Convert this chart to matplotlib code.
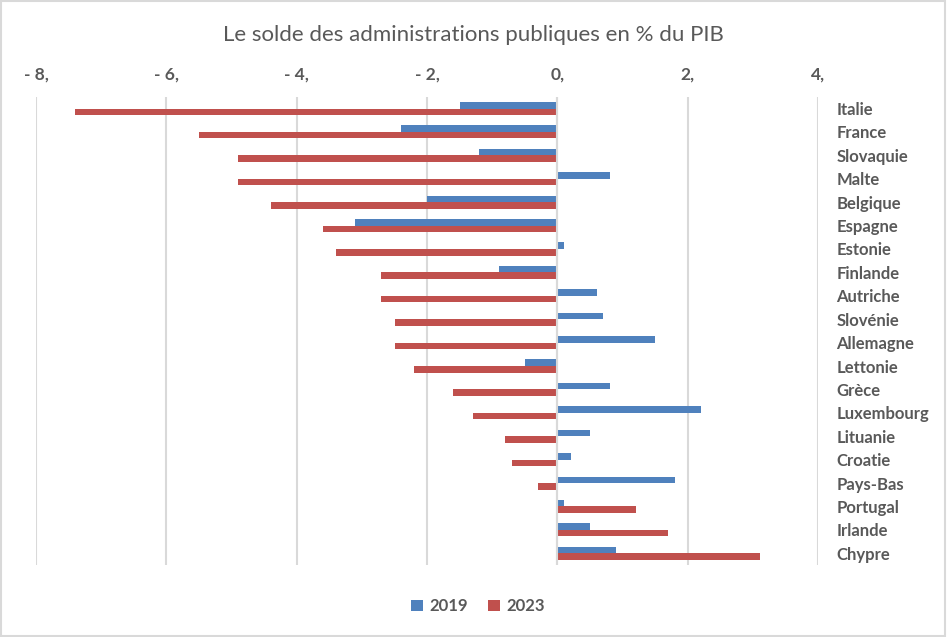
import numpy as np
import matplotlib.pyplot as plt
from matplotlib.patches import Rectangle

plt.rcParams['font.family'] = ['Lato', 'DejaVu Sans']

pays = ['Italie', 'France', 'Slovaquie', 'Malte', 'Belgique', 'Espagne',
        'Estonie', 'Finlande', 'Autriche', 'Slovénie', 'Allemagne',
        'Lettonie', 'Grèce', 'Luxembourg', 'Lituanie', 'Croatie',
        'Pays-Bas', 'Portugal', 'Irlande', 'Chypre']
solde_2019 = [-1.5, -2.4, -1.2, 0.8, -2.0, -3.1, 0.1, -0.9, 0.6, 0.7,
              1.5, -0.5, 0.8, 2.2, 0.5, 0.2, 1.8, 0.1, 0.5, 0.9]
solde_2023 = [-7.4, -5.5, -4.9, -4.9, -4.4, -3.6, -3.4, -2.7, -2.7, -2.5,
              -2.5, -2.2, -1.6, -1.3, -0.8, -0.7, -0.3, 1.2, 1.7, 3.1]
ticks = [-8, -6, -4, -2, 0, 2, 4]
tick_labels = ['- 8,', '- 6,', '- 4,', '- 2,', '0,', '2,', '4,']

grey = '#595959'
blue = '#4F81BD'
red = '#C0504D'

fig = plt.figure(figsize=(9.47, 6.37), dpi=100)
ax = fig.add_axes([0.038, 0.113, 0.826, 0.735])

y = np.arange(len(pays))
h = 0.28
ax.barh(y - h / 2, solde_2019, height=h, color=blue, label='2019', zorder=3)
ax.barh(y + h / 2, solde_2023, height=h, color=red, label='2023', zorder=3)

ax.set_xlim(-8, 4)
ax.set_ylim(19.5, -0.5)
ax.set_xticks(ticks)
ax.set_xticklabels(tick_labels)
ax.xaxis.tick_top()
ax.tick_params(axis='x', length=0, pad=10, labelsize=12.5, labelcolor=grey)
for t in ax.get_xticklabels():
    t.set_fontweight('bold')

ax.set_yticks(y)
ax.set_yticklabels(pays)
ax.yaxis.tick_right()
ax.tick_params(axis='y', length=0, pad=13, labelsize=12, labelcolor=grey)
for t in ax.get_yticklabels():
    t.set_fontweight('bold')

ax.grid(axis='x', color='#D9D9D9', linewidth=1.5, zorder=0)
for s in ax.spines.values():
    s.set_visible(False)
ax.axvline(0, color='#D9D9D9', linewidth=1.5, zorder=4)

fig.text(0.5, 0.945, 'Le solde des administrations publiques en % du PIB',
         ha='center', va='center', fontsize=16, color=grey)

fig.legend(loc='center', bbox_to_anchor=(0.505, 0.048), ncol=2, frameon=False,
           prop={'size': 12, 'weight': 'bold'}, handlelength=0.7,
           handleheight=0.7, columnspacing=1.2, handletextpad=0.4,
           labelcolor=grey)

fig.patches.append(Rectangle((0.001, 0.001), 0.997, 0.997, transform=fig.transFigure,
                             fill=False, edgecolor='#D9D9D9', linewidth=1.5))

fig.savefig('out.png', dpi=100)
